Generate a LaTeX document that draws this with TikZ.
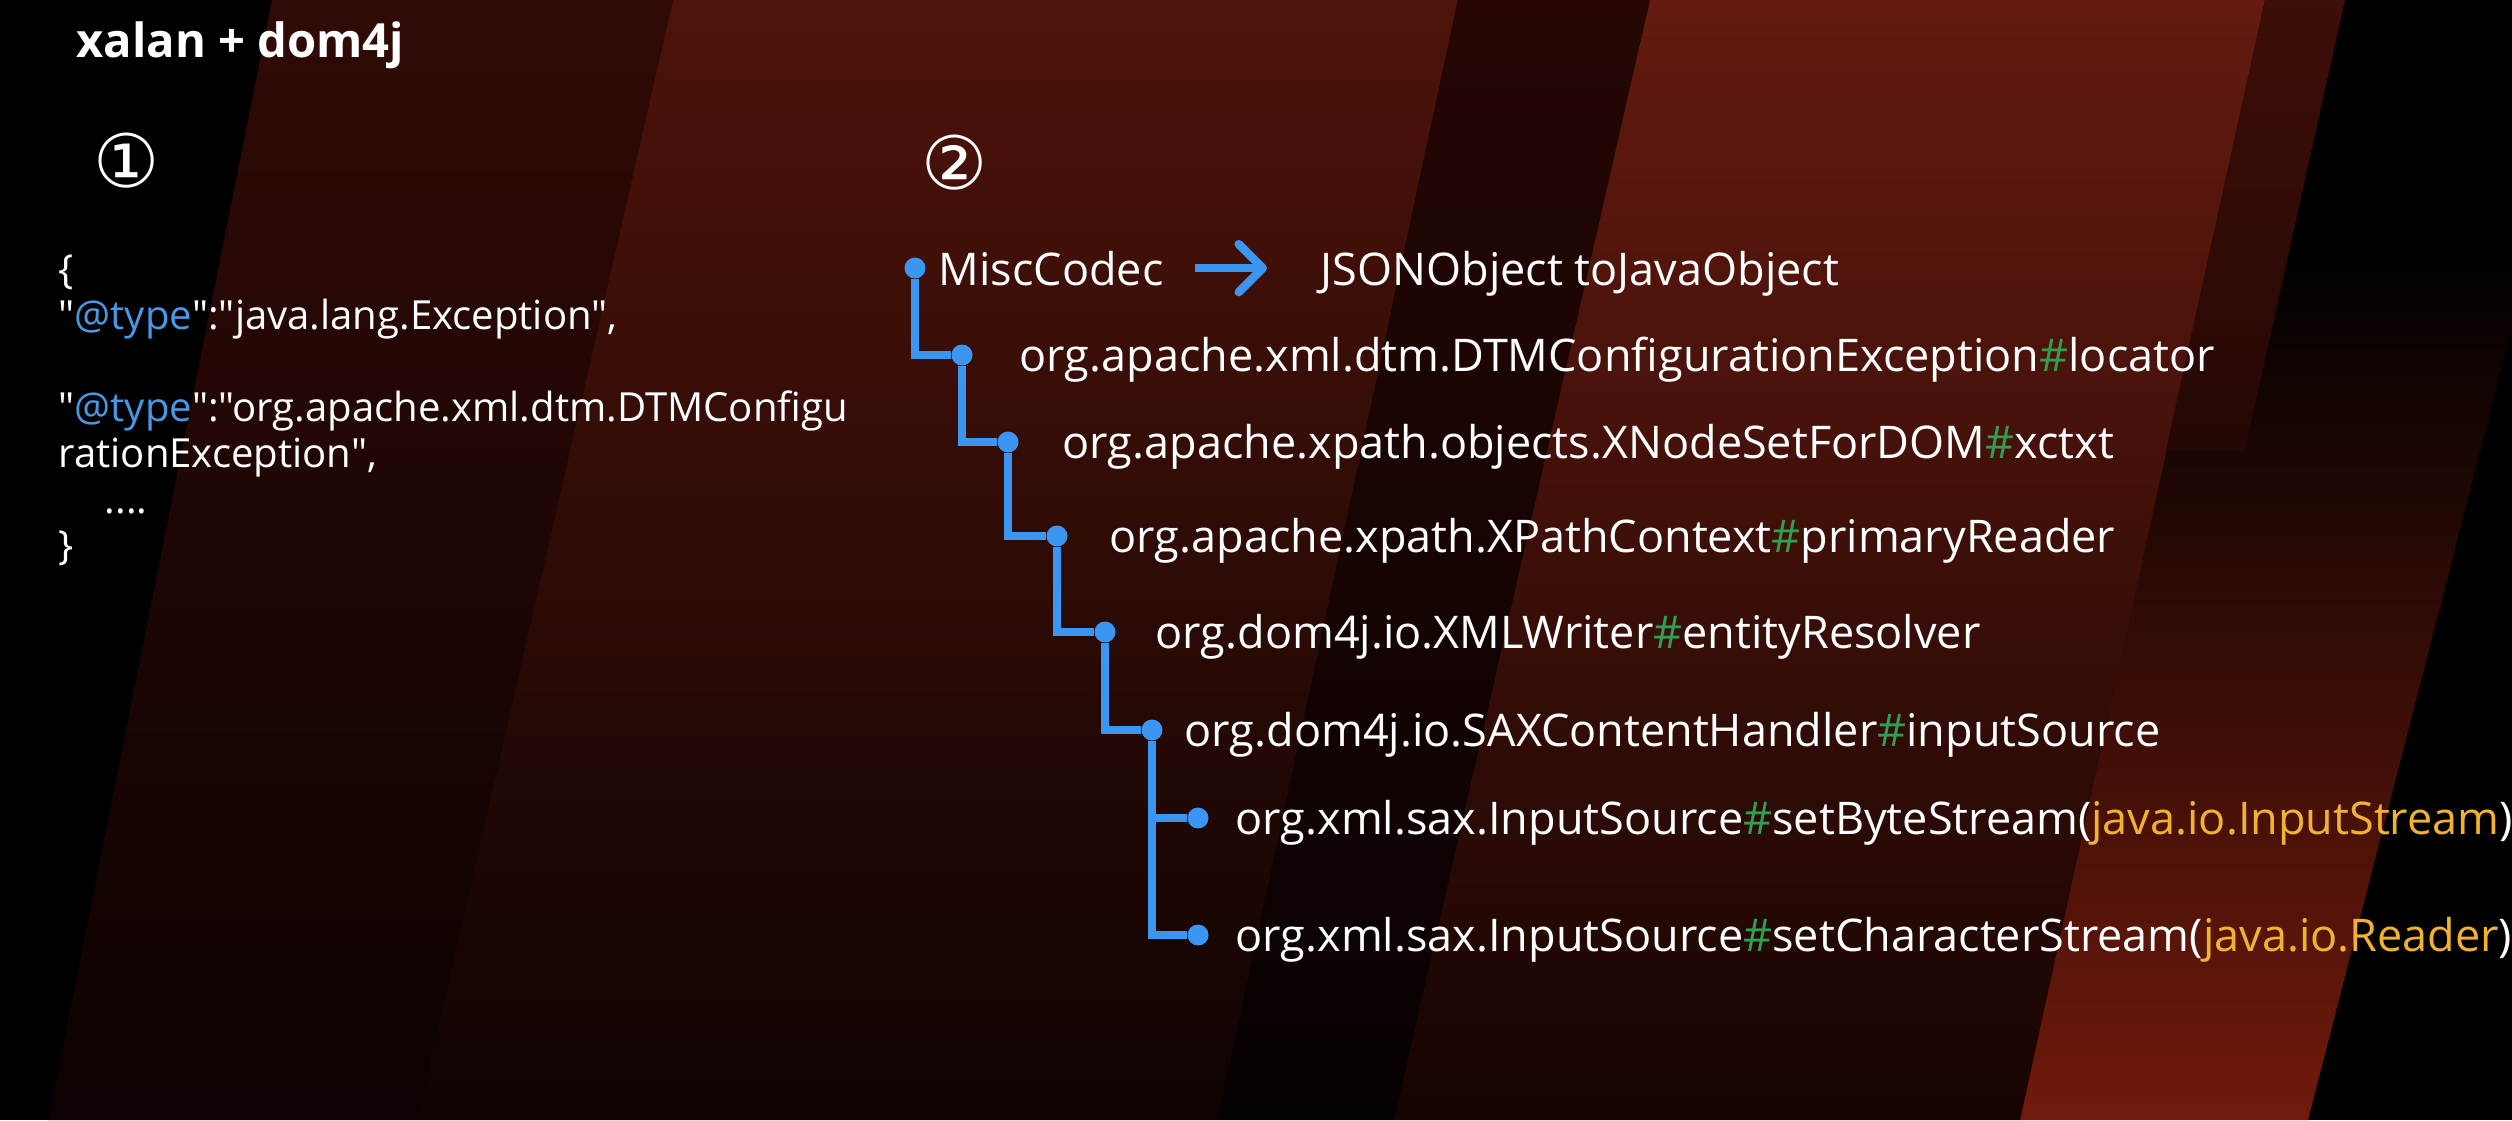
\documentclass[tikz,border=0pt]{standalone}
\usepackage{fontspec}
\setmainfont{Open Sans}
\newfontfamily\codefont{Open Sans}
\newfontfamily\circfont{DejaVu Sans}
\usepackage{xcolor}
\usetikzlibrary{arrows.meta, calc, positioning}

\definecolor{wireblue}{RGB}{58,150,240}
\definecolor{keyblue}{RGB}{72,152,230}
\definecolor{hashgreen}{RGB}{46,160,80}
\definecolor{argyellow}{RGB}{240,178,48}

\newcommand\hashmark{\textcolor{hashgreen}{\#}}
\newcommand\atkey{\textcolor{keyblue}{@type}}
\newcommand\argtype[1]{\textcolor{argyellow}{#1}}

\begin{document}
\begin{tikzpicture}[
      x=0.01cm, y=-0.01cm,
      item/.style={anchor=base west, inner sep=0pt, text=white,
                   font=\fontsize{12.8}{15}\selectfont},
      code/.style={anchor=base west, inner sep=0pt, text=white,
                   font=\codefont\fontsize{11.4}{13}\selectfont},
      num/.style={inner sep=0pt, text=white, font=\circfont\fontsize{21}{21}\selectfont},
      dot/.style={circle, fill=wireblue, inner sep=0pt, minimum size=2.1mm},
      wire/.style={draw=wireblue, line width=2.2pt},
      flow/.style={draw=wireblue, line width=2.4pt,
                   -{Straight Barb[length=2.4mm, width=4.8mm, round]}},
    ]
    % canvas: 2512 x 1120 px, y grows downwards
    \useasboundingbox (0,0) rectangle (2512,1120);
    \fill[black] (0,0) rectangle (2512,1120);

    % slanted background stripes
    \shade[top color=black, bottom color={rgb,255:red,112;green,26;blue,12}]
      (2193,250) -- (2532,250) -- (2308,1120) -- (2019,1120) -- cycle;
    \shade[top color={rgb,255:red,48;green,10;blue,6}, bottom color={rgb,255:red,12;green,2;blue,1}]
      (272,0) -- (673,0) -- (417,1120) -- (48,1120) -- cycle;
    \shade[top color={rgb,255:red,78;green,19;blue,10}, bottom color={rgb,255:red,14;green,3;blue,2}]
      (673,0) -- (1458,0) -- (1218,1120) -- (417,1120) -- cycle;
    \shade[top color={rgb,255:red,38;green,7;blue,4}, bottom color={rgb,255:red,6;green,1;blue,1}]
      (1458,0) -- (1650,0) -- (1394,1120) -- (1218,1120) -- cycle;
    \shade[top color={rgb,255:red,100;green,26;blue,15}, bottom color={rgb,255:red,22;green,4;blue,2}]
      (1650,0) -- (2265,0) -- (2020,1120) -- (1394,1120) -- cycle;
    \shade[top color={rgb,255:red,62;green,14;blue,8}, bottom color={rgb,255:red,36;green,8;blue,4}]
      (2265,0) -- (2345,0) -- (2245,450) -- (2166,450) -- cycle;

    % heading and step numbers
    \node[anchor=base west, inner sep=0pt, text=white,
          font=\bfseries\fontsize{13.4}{16}\selectfont] (title) at (76,57) {xalan + dom4j};
    \node[num] (n1) at (127,161) {①};
    \node[num] (n2) at (955,163) {②};

    % step 1: json payload
    \node[code] (j0) at (58,283) {\{};
    \node[code] (j1) at (58,329) {"\atkey":"java.lang.Exception",};
    \node[code] (j2) at (58,421) {"\atkey":"org.apache.xml.dtm.DTMConfigu};
    \node[code] (j3) at (58,467) {rationException",};
    \node[code] (j4) at (104,513) {....};
    \node[code] (j5) at (58,559) {\}};

    % step 2: call chain, one dot per level
    \foreach \n/\px/\py in {0/915/268, 1/962/355, 2/1008/442, 3/1057/536,
                            4/1105/632, 5/1152/730, 6/1198/818, 7/1198/935}
      \node[dot] (d\n) at (\px,\py) {};
    \foreach \a/\b in {0/1, 1/2, 2/3, 3/4, 4/5, 5/6, 5/7}
      \draw[wire] (d\a) |- (d\b);

    \node[item] (t0) at ($(d0)+(23,17)$) {MiscCodec};
    \node[item] (t0b) at ($(d0)+(405,17)$) {JSONObject toJavaObject};
    \node[item] (t1) at ($(d1)+(57,16)$) {org.apache.xml.dtm.DTMConfigurationException\hashmark locator};
    \node[item] (t2) at ($(d2)+(54,16)$) {org.apache.xpath.objects.XNodeSetForDOM\hashmark xctxt};
    \node[item] (t3) at ($(d3)+(52,16)$) {org.apache.xpath.XPathContext\hashmark primaryReader};
    \node[item] (t4) at ($(d4)+(50,16)$) {org.dom4j.io.XMLWriter\hashmark entityResolver};
    \node[item] (t5) at ($(d5)+(32,16)$) {org.dom4j.io.SAXContentHandler\hashmark inputSource};
    \node[item] (t6) at ($(d6)+(37,16)$)
      {org.xml.sax.InputSource\hashmark setByteStream(\argtype{java.io.InputStream})};
    \node[item] (t7) at ($(d7)+(37,16)$)
      {org.xml.sax.InputSource\hashmark setCharacterStream(\argtype{java.io.Reader})};

    \draw[flow, shorten <=3.1mm, shorten >=5.3mm] (t0.east) -- (t0.east -| t0b.west);
  \end{tikzpicture}
\end{document}
